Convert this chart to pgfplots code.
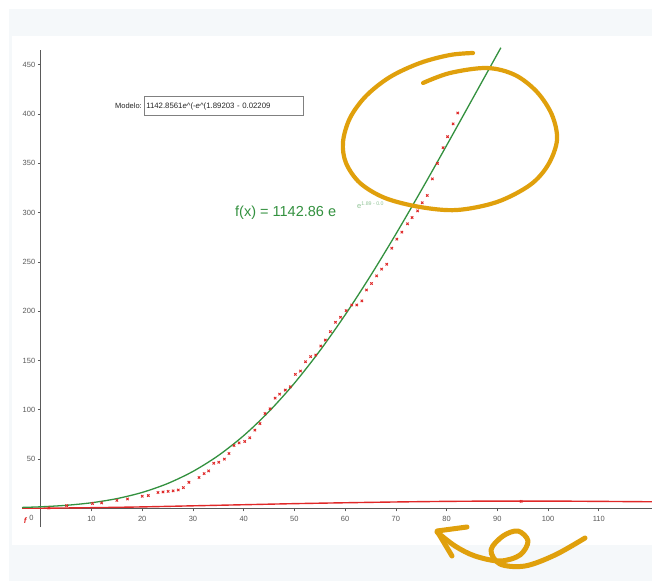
\documentclass[border=0pt]{standalone}
\usepackage{pgfplots}
\pgfplotsset{compat=1.18}
\usepackage{fontspec}
\setmainfont{Liberation Sans}
\definecolor{ggaxis}{HTML}{5A5A5A}
\definecolor{gggreen}{HTML}{33913F}
\definecolor{ggred}{HTML}{E02828}
\definecolor{pen}{HTML}{E0A00C}
\definecolor{bgedge}{HTML}{F5F8FA}

\begin{document}
\begin{tikzpicture}
% page background (screenshot edges)
\useasboundingbox (0,0) rectangle (652pt,581pt);
\fill[white] (0,0) rectangle (652pt,581pt);
\fill[bgedge] (9pt,0) rectangle (652pt,572pt);
\fill[white] (12pt,36pt) rectangle (652pt,545pt);

\begin{axis}[
    at={(22pt,54pt)}, anchor=south west,
    width=630pt, height=477pt, scale only axis,
    xmin=-3.7, xmax=120.5,
    ymin=-19, ymax=465,
    axis lines=middle,
    axis line style={ggaxis, line width=1.1pt, -},
    xtick={10,20,...,110},
    ytick={50,100,...,450},
    tick align=outside,
    major tick length=3pt,
    tick style={ggaxis, line width=0.6pt},
    tick label style={font=\fontsize{7.5}{9}\selectfont, text=ggaxis},
    /pgf/number format/assume math mode=true,
    xticklabel style={yshift=-1pt},
    yticklabel style={xshift=1pt},
    clip=false,
]
% red curve near the x axis
\addplot[ggred, line width=1.4pt, smooth] coordinates {
    (-3.7,0.0) (0,0.05) (10,0.6) (20,1.4) (30,2.5) (40,3.6) (50,4.7)
    (60,5.6) (70,6.4) (80,7.0) (90,7.3) (100,7.3) (110,7.0) (120.5,6.6)
};
% fitted model
\addplot[gggreen, line width=1.3pt, smooth] coordinates {
    (-3.7,0.86) (0,1.5) (5,3.0) (10,5.6) (15,9.8) (20,16.1) (25,25.1)
    (30,37.4) (35,53.5) (40,73.7) (45,98.2) (50,126.9) (55,159.7)
    (60,196.2) (65,235.9) (70,278.2) (75,322.5) (80,368.1) (85,414.4)
    (90,460.8) (90.7,467.3)
};
% data points
\addplot[only marks, mark=x, mark size=1.7pt, ggred, line width=0.9pt] coordinates {
    (1.6,0.3) (5.1,2.7) (10.2,4.8) (12,5.4) (15,8) (17.1,9.5) (20,12.2)
    (21.2,12.9) (23.1,16) (24.1,16.6) (25.1,17.2) (26.1,17.6) (27.1,18.6)
    (28.1,21) (29.2,26.4) (31.2,31.2) (32.2,35.2) (33.1,37.9) (34.1,45.7)
    (35.1,46.7) (36.2,49.8) (37.1,55.6) (38.1,63.7) (39.1,66.4) (40.2,67.8)
    (41.2,71.5) (42.2,79.3) (43.2,86) (44.2,96.2) (45.2,100.9) (46.2,111.8)
    (47.1,115.8) (48.2,119.9) (49.2,123.3) (50.2,135.9) (51.2,139.2)
    (52.2,148.7) (53.2,153.8) (54.2,155.5) (55.2,164.6) (56.1,170.7)
    (57.1,179.2) (58.1,188.7) (59.1,193.8) (60.2,200.5) (61.3,206.3)
    (62.3,206.3) (63.3,210.4) (64.2,221.5) (65.2,228) (66.2,235.8)
    (67.2,242.6) (68.2,247.6) (69.2,263.9) (70.2,273) (71.2,280.2)
    (72.3,288.6) (73.2,295) (74.3,301.8) (75.2,310) (76.2,317.4)
    (77.2,334.3) (78.2,349.9) (79.3,365.9) (80.2,377) (81.3,390) (82.2,401.1)
};
\addplot[only marks, mark=x, mark size=1.7pt, ggred, line width=0.9pt] coordinates {(94.7,7.0)};
\end{axis}

% texts and pen strokes, in screenshot pixel coordinates
\begin{scope}[shift={(0pt,581pt)}, x=1pt, y=-1pt]
\node[anchor=east, font=\fontsize{7.5}{9}\selectfont, text=ggaxis] at (37,518) {0};
\node[anchor=east, font=\fontsize{8}{9}\selectfont\itshape\bfseries, text=ggred] at (30,521) {f};
\node[anchor=east, font=\fontsize{7.5}{9}\selectfont, text=black!85, inner sep=1pt] at (143,106) {Modelo:};
\node[anchor=west, draw=gray, line width=0.5pt, fill=white, minimum height=19pt,
      text width=155pt, align=left,
      font=\fontsize{7.8}{9}\selectfont, text=black!85, inner xsep=2pt] at (144,106)
      {1142.8561\textit{e}\^{}(-\textit{e}\^{}(1.89203 - 0.02209};
\node[anchor=west, font=\fontsize{14.5}{16}\selectfont, text=gggreen, inner sep=0pt] at (235,213)
      {f(x) = 1142.86 e};
\node[anchor=west, font=\fontsize{7.5}{8}\selectfont, text=gggreen!55, inner sep=0pt] at (357,205)
      {e\textsuperscript{1.89 - 0.0}};
% circle round the last points
\draw[pen, line width=4.2pt, line cap=round, line join=round]
  plot[smooth, tension=0.55] coordinates {
    (423,83) (450,73) (487,68) (515,75) (537,92) (552,115) (557,140)
    (548,165) (530,185) (497,202) (457,210) (420,207) (385,198) (360,183)
    (346,163) (343,142) (350,118) (366,96) (390,77) (420,63) (450,55) (473,53)};
% arrow under the x axis
\draw[pen, line width=5pt, line cap=round, line join=round]
  plot[smooth, tension=0.55] coordinates {
    (585,538) (555,555) (525,566) (500,564) (491,550) (503,536) (518,531)
    (528,541) (520,555) (500,561) (475,556) (455,546) (437,532)};
\draw[pen, line width=5pt, line cap=round, line join=round]
  (467,527) -- (437,531) -- (452,556);
\end{scope}
\end{tikzpicture}
\end{document}
